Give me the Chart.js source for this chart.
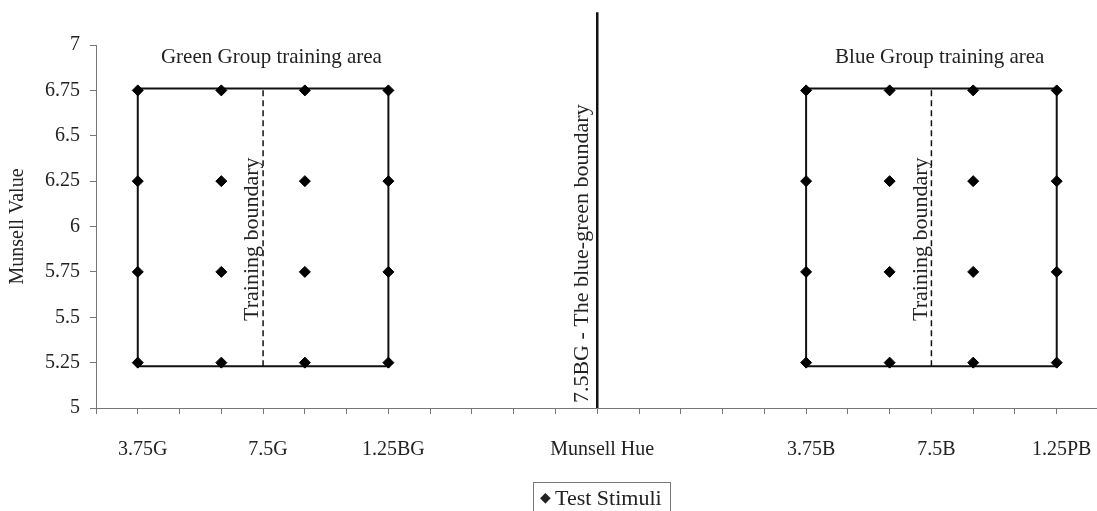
<!DOCTYPE html>
<html>
<head>
<meta charset="utf-8">
<script src="https://cdn.jsdelivr.net/npm/chart.js@4"></script>
<style>
  body { margin: 0; background: #fff; overflow: hidden; }
  #wrap { position: relative; width: 1097px; height: 511px; overflow: hidden; }
  #legend {
    position: absolute; left: 533px; top: 482px; width: 138px; height: 34px;
    border: 1px solid #777; font: 22px "Liberation Serif", serif; color: #222;
    box-sizing: border-box; padding: 2px 0 0 6px; white-space: nowrap;
  }
  #legend span { font-size: 14px; position: relative; top: -3px; margin-right: 4px; }
</style>
</head>
<body>
<div id="wrap">
  <canvas id="chart" width="1105" height="511"></canvas>
  <div id="legend"><span>&#9670;</span>Test Stimuli</div>
</div>
<script>
// Munsell hue steps of 1.25 along x, tick 0 = 2.5G
const tickPositions = [1, 4, 7, 12, 17, 20, 23];
const tickLabels = ['3.75G', '7.5G', '1.25BG', 'Munsell Hue', '3.75B', '7.5B', '1.25PB'];

const greenHues = [1, 3, 5, 7];
const blueHues = [17, 19, 21, 23];
const stimulusValues = [5.25, 5.75, 6.25, 6.75];

const greenBoxX = [1, 7, 7, 1, 1];
const blueBoxX = [17, 23, 23, 17, 17];
const boxY = [6.76, 6.76, 5.23, 5.23, 6.76];

const trainingBoundaryX = [4, 20];
const trainingBoundaryY = [5.23, 6.76];
const blueGreenBoundaryX = 12;
const blueGreenBoundaryY = [5, 7.18];

const FONT = '"Liberation Serif", "Times New Roman", serif';

const stimuli = [];
greenHues.concat(blueHues).forEach(x => {
    stimulusValues.forEach(y => stimuli.push({ x, y }));
});

const toPts = (xs, ys) => xs.map((x, i) => ({ x, y: ys[i] }));
const lineSet = (data, extra) => Object.assign({
    type: 'line', data, borderColor: '#111', borderWidth: 2,
    pointRadius: 0, fill: false, tension: 0, order: 2
}, extra);

const datasets = [
    {
        label: 'Test Stimuli', data: stimuli, order: 0,
        pointStyle: 'rectRot', pointRadius: 5.5, borderWidth: 1,
        backgroundColor: '#000', borderColor: '#000'
    },
    lineSet(toPts(greenBoxX, boxY)),
    lineSet(toPts(blueBoxX, boxY)),
    lineSet(toPts([trainingBoundaryX[0], trainingBoundaryX[0]], trainingBoundaryY), { borderWidth: 1.5, borderDash: [6, 4] }),
    lineSet(toPts([trainingBoundaryX[1], trainingBoundaryX[1]], trainingBoundaryY), { borderWidth: 1.5, borderDash: [6, 4] }),
    lineSet(toPts([blueGreenBoundaryX, blueGreenBoundaryX], blueGreenBoundaryY), { borderWidth: 2.5, clip: false })
];

// text boxes placed in data coordinates
const notes = [
    { text: 'Green Group training area', x: 4.2, y: 6.93, rot: 0, size: 21 },
    { text: 'Blue Group training area', x: 20.2, y: 6.93, rot: 0, size: 21 },
    { text: 'Training boundary', x: 3.75, y: 5.93, rot: -Math.PI / 2, size: 22 },
    { text: 'Training boundary', x: 19.75, y: 5.93, rot: -Math.PI / 2, size: 22 },
    { text: '7.5BG - The blue-green boundary', x: 11.65, y: 5.85, rot: -Math.PI / 2, size: 22 }
];

const notePlugin = {
    id: 'notes',
    afterDatasetsDraw(chart) {
        const ctx = chart.ctx;
        const xs = chart.scales.x, ys = chart.scales.y;
        ctx.save();
        ctx.fillStyle = '#222';
        ctx.textAlign = 'center';
        ctx.textBaseline = 'middle';
        notes.forEach(n => {
            ctx.save();
            ctx.font = n.size + 'px ' + FONT;
            ctx.translate(xs.getPixelForValue(n.x), ys.getPixelForValue(n.y));
            ctx.rotate(n.rot);
            ctx.fillText(n.text, 0, 0);
            ctx.restore();
        });
        ctx.restore();
    }
};

new Chart(document.getElementById('chart').getContext('2d'), {
    type: 'scatter',
    data: { datasets },
    options: {
        responsive: false,
        animation: false,
        layout: { padding: { top: 45, right: 2, left: 0, bottom: 0 } },
        plugins: { legend: { display: false }, tooltip: { enabled: false } },
        scales: {
            x: {
                type: 'linear', min: 0, max: 24,
                afterFit: s => { s.height = 103; s.paddingLeft = 0; s.paddingRight = 0; },
                border: { color: '#777', width: 1 },
                grid: { drawOnChartArea: false, tickLength: 6, color: '#777' },
                ticks: {
                    stepSize: 1, autoSkip: false, maxRotation: 0, padding: 24, labelOffset: 5,
                    color: '#222', font: { family: FONT, size: 20 },
                    callback: v => {
                        const i = tickPositions.indexOf(v);
                        return i >= 0 ? tickLabels[i] : '';
                    }
                }
            },
            y: {
                min: 5, max: 7,
                afterFit: s => { s.width = 96; s.paddingTop = 0; s.paddingBottom = 0; },
                border: { color: '#777', width: 1 },
                grid: { drawOnChartArea: false, tickLength: 6, color: '#777' },
                ticks: {
                    stepSize: 0.25, padding: 10, color: '#222', font: { family: FONT, size: 20 },
                    callback: v => String(+v.toFixed(2))
                },
                title: {
                    display: true, text: 'Munsell Value', color: '#222',
                    font: { family: FONT, size: 20 }, padding: { top: 6, bottom: 0 }
                }
            }
        }
    },
    plugins: [notePlugin]
});
</script>
</body>
</html>
